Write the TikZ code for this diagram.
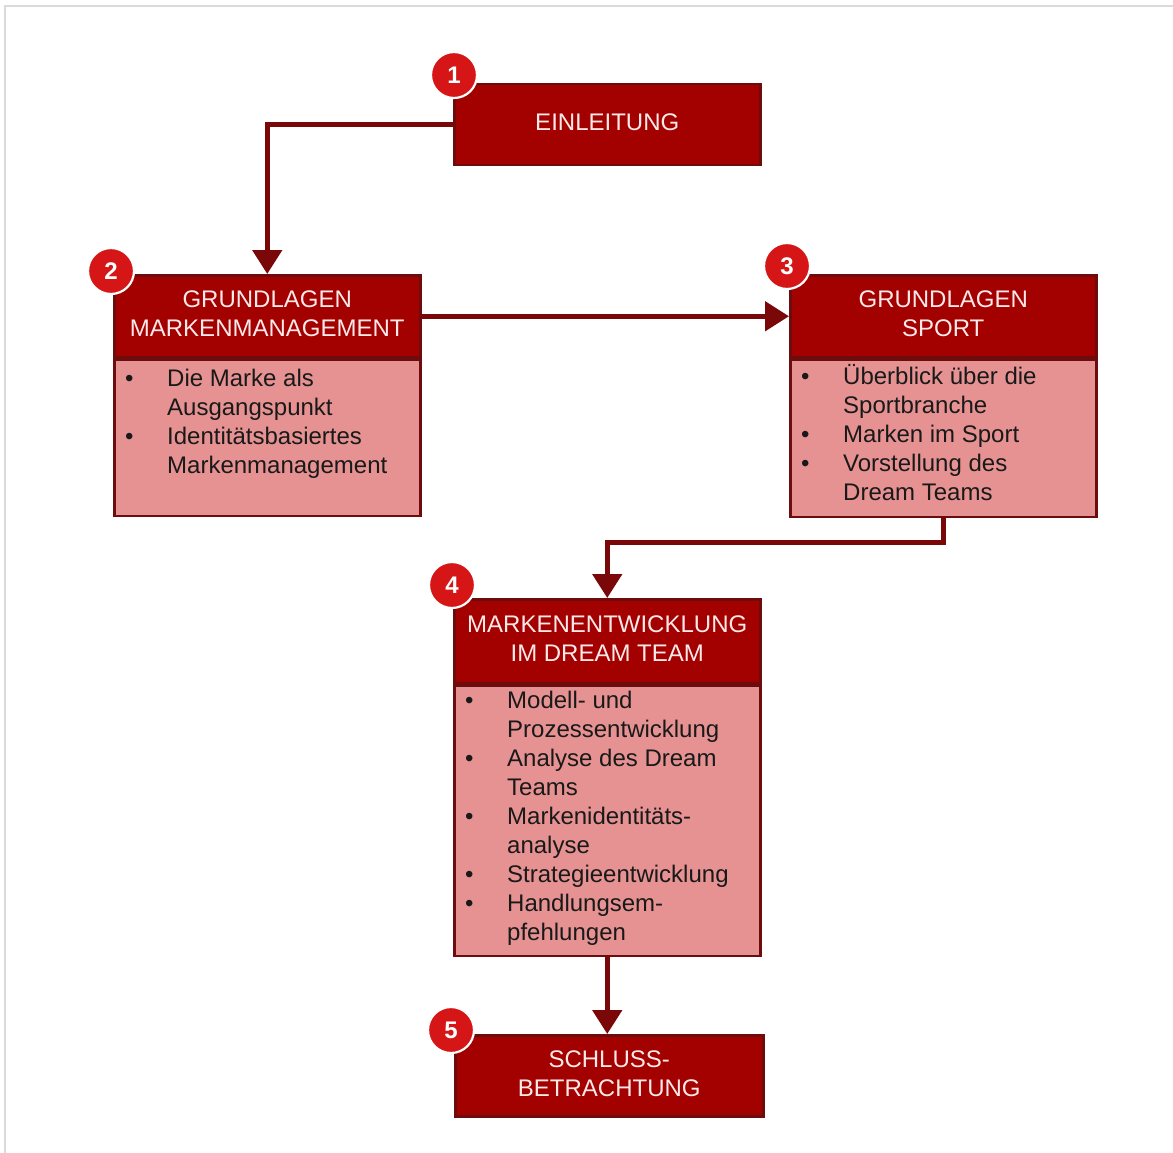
\documentclass[tikz,border=0pt]{standalone}
\usepackage{fontspec}
\setmainfont{Liberation Sans}
\usetikzlibrary{arrows.meta,calc,shadows}

\definecolor{hdrred}{RGB}{163,0,0}
\definecolor{bodypink}{RGB}{230,146,146}
\definecolor{edgered}{RGB}{108,12,12}
\definecolor{linkred}{RGB}{122,8,8}
\definecolor{badgered}{RGB}{214,22,22}
\definecolor{hdrtext}{RGB}{253,233,233}
\definecolor{framegrey}{RGB}{218,218,218}

\tikzset{
  hdr/.style={draw=edgered, line width=2.5pt, fill=hdrred, text=hdrtext,
    inner sep=0pt, anchor=north west,
    font=\fontsize{24}{29}\selectfont},
  bodybox/.style={draw=edgered, line width=2.5pt, fill=bodypink,
    inner sep=0pt, anchor=north},
  bodytext/.style={anchor=north west, inner sep=0pt, text=black!90,
    font=\fontsize{24}{29}\selectfont},
  badge/.style={circle, fill=badgered, draw=white, line width=2.2pt,
    minimum size=46pt, inner sep=0pt, text=white,
    font=\fontsize{24}{24}\selectfont\bfseries,
    drop shadow={opacity=0.25, shadow xshift=0.8pt, shadow yshift=-0.8pt}},
  conn/.style={draw=linkred, line width=5pt,
    -{Triangle[width=29pt,length=24pt]}},
}

% centred header lines, lifted slightly in the bar
\newcommand{\htitle}[1]{\raisebox{2pt}{\begin{tabular}{@{}c@{}}#1\end{tabular}}}
\newcommand{\blist}[1]{\begin{tabular}{@{}p{42pt}@{}l@{}}#1\end{tabular}}
\newcommand{\bul}{\textbullet}

\begin{document}
\begin{tikzpicture}[x=1pt,y=-1pt]
  \useasboundingbox (0,0) rectangle (1173,1153);
  % light frame along the top and left edge
  \draw[framegrey, line width=2pt] (5,1153) -- (5,6) -- (1173,6);

  % 1 Einleitung
  \node[hdr, minimum width=306pt, minimum height=81pt] (h1) at (453,83) {\htitle{EINLEITUNG}};

  % 2 Grundlagen Markenmanagement
  \node[hdr, minimum width=306pt, minimum height=82pt] (h2) at (113,274) {\htitle{GRUNDLAGEN\\MARKENMANAGEMENT}};
  \node[bodybox, minimum width=306pt, minimum height=156pt] (b2) at (h2.south) {};
  \node[bodytext] (t2) at ($(b2.north west)+(12,7)$) {\blist{%
    \bul & Die Marke als\\
         & Ausgangspunkt\\
    \bul & Identitätsbasiertes\\
         & Markenmanagement}};

  % 3 Grundlagen Sport
  \node[hdr, minimum width=306pt, minimum height=82pt] (h3) at (789,274) {\htitle{GRUNDLAGEN\\SPORT}};
  \node[bodybox, minimum width=306pt, minimum height=157pt] (b3) at (h3.south) {};
  \node[bodytext] (t3) at ($(b3.north west)+(12,5)$) {\blist{%
    \bul & Überblick über die\\
         & Sportbranche\\
    \bul & Marken im Sport\\
    \bul & Vorstellung des\\
         & Dream Teams}};

  % 4 Markenentwicklung im Dream Team
  \node[hdr, minimum width=306pt, minimum height=84pt] (h4) at (453,598) {\htitle{MARKENENTWICKLUNG\\IM DREAM TEAM}};
  \node[bodybox, minimum width=306pt, minimum height=270pt] (b4) at (h4.south) {};
  \node[bodytext] (t4) at ($(b4.north west)+(12,3)$) {\blist{%
    \bul & Modell- und\\
         & Prozessentwicklung\\
    \bul & Analyse des Dream\\
         & Teams\\
    \bul & Markenidentitäts-\\
         & analyse\\
    \bul & Strategieentwicklung\\
    \bul & Handlungsem-\\
         & pfehlungen}};

  % 5 Schlussbetrachtung
  \node[hdr, minimum width=308pt, minimum height=81pt] (h5) at (454,1034) {\htitle{SCHLUSS-\\BETRACHTUNG}};

  % connectors
  \draw[conn] (h1.west) -| (h2.north);
  \draw[conn] (h2.east) -- (h3.west);
  \coordinate (bend3) at ($(b3.south)+(0,24)$);
  \draw[conn] (b3.south) -- (bend3) -| (h4.north);
  \draw[conn] (b4.south) -- (b4.south |- h5.north);

  % step numbers
  \node[badge] (n1) at (454,75) {1};
  \node[badge] (n2) at (111,271) {2};
  \node[badge] (n3) at (787,266) {3};
  \node[badge] (n4) at (452,585) {4};
  \node[badge] (n5) at (451,1030) {5};
\end{tikzpicture}
\end{document}
